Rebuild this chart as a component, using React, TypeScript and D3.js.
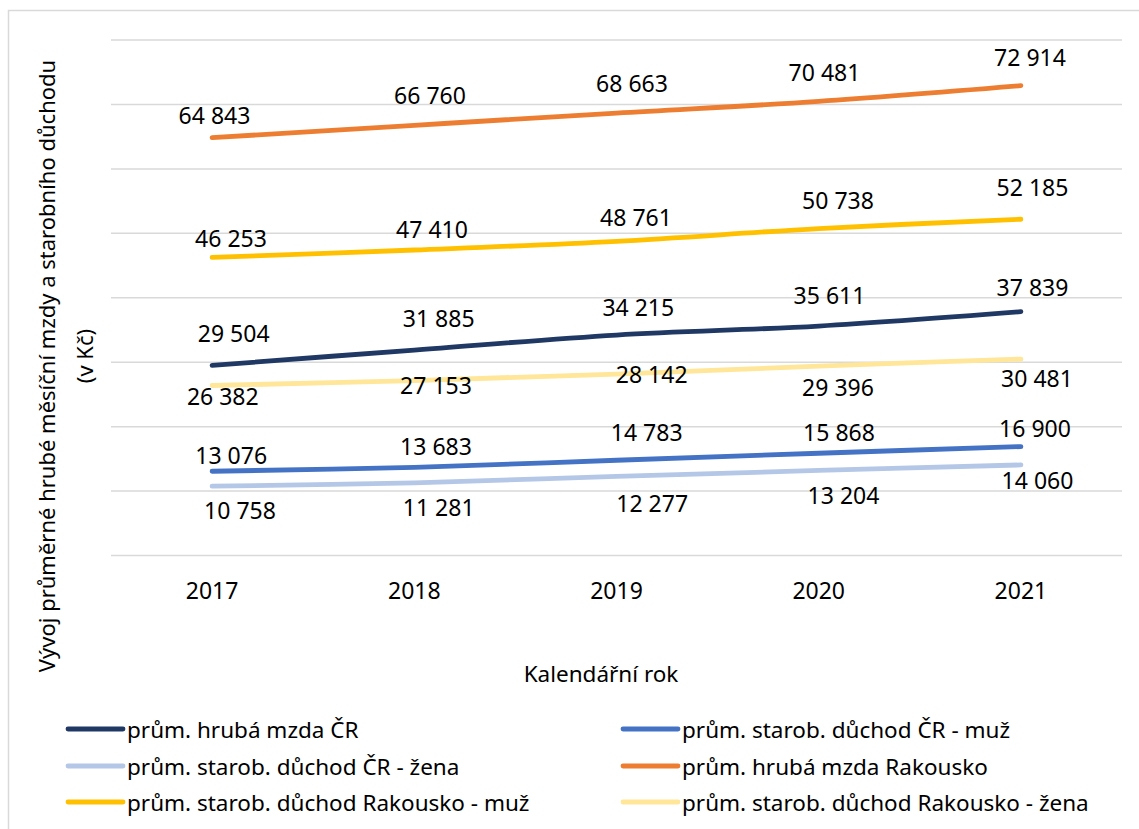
import React from 'react';
import * as d3 from 'd3';

const years = ['2017', '2018', '2019', '2020', '2021'];
const wageCZ = [29504, 31885, 34215, 35611, 37839];
const pensionCZMen = [13076, 13683, 14783, 15868, 16900];
const pensionCZWomen = [10758, 11281, 12277, 13204, 14060];
const wageAT = [64843, 66760, 68663, 70481, 72914];
const pensionATMen = [46253, 47410, 48761, 50738, 52185];
const pensionATWomen = [26382, 27153, 28142, 29396, 30481];
const yTicks = [0, 10000, 20000, 30000, 40000, 50000, 60000, 70000, 80000];

const seriesNames = [
  'prům. hrubá mzda ČR',
  'prům. starob. důchod ČR - muž',
  'prům. starob. důchod ČR - žena',
  'prům. hrubá mzda Rakousko',
  'prům. starob. důchod Rakousko - muž',
  'prům. starob. důchod Rakousko - žena',
];
const seriesValues = [wageCZ, pensionCZMen, pensionCZWomen, wageAT, pensionATMen, pensionATWomen];
const seriesColors = ['#203864', '#4472C4', '#B4C7E7', '#ED7D31', '#FFC000', '#FFE699'];

// label placement offsets relative to the data point (layout only)
const labelDx = [
  [21.6, 24.4, 21.8, 10.8, 11.6],
  [19.1, 21.7, 30.2, 20.3, 14.1],
  [27.9, 24.4, 35.7, 24.8, 16.6],
  [2.4, 15.7, 15.5, 5.8, 9.1],
  [18.9, 17.7, 19.5, 19.3, 11.6],
  [10.7, 21.7, 35.2, 19.3, 16.1],
];
const labelDy = [
  [-32.4, -32, -28.3, -31, -25],
  [-15.9, -21.6, -28.5, -21.6, -18.6],
  [24.1, 24.2, 26.9, 24.3, 15.1],
  [-22.4, -30.3, -30, -29.6, -29],
  [-19.2, -21, -24.3, -28.5, -32.5],
  [10.5, 4.5, 0.1, 20.9, 18.9],
];

const W = 1139;
const H = 829;
const FONT = "'Noto Sans', 'Open Sans', sans-serif";

export default function App() {
  const x = d3.scaleBand<string>().domain(years).range([111, 1122]);
  const y = d3.scaleLinear().domain([0, 80000]).range([555.5, 40]);
  const cx = (yr: string) => (x(yr) as number) + x.bandwidth() / 2;
  const fmt = (v: number) => d3.format(',')(v).replace(/,/g, ' ');

  const line = d3
    .line<number>()
    .x((_, i) => cx(years[i]))
    .y((d) => y(d))
    .curve(d3.curveCatmullRom.alpha(0.5));

  const legendCols = [68, 623];
  const legendRows = [729, 766, 802];

  return (
    <svg width={W} height={H} style={{ position: 'absolute', left: 0, top: 0, background: '#fff' }}>
      <rect x={0} y={0} width={W} height={H} fill="#fff" />
      <rect x={8.5} y={10.5} width={W + 20} height={H + 20} fill="none" stroke="#d9d9d9" strokeWidth={1.5} />
      {yTicks.map((t) => (
        <line key={t} x1={111} x2={1122} y1={y(t)} y2={y(t)} stroke="#d9d9d9" strokeWidth={1.5} />
      ))}
      {years.map((yr) => (
        <text key={yr} x={cx(yr)} y={590} textAnchor="middle" dominantBaseline="central" fontFamily={FONT} fontSize={23} fill="#000">
          {yr}
        </text>
      ))}
      <text x={601} y={673} textAnchor="middle" dominantBaseline="central" fontFamily={FONT} fontSize={22.5} fill="#000">
        Kalendářní rok
      </text>
      <g transform="translate(46,366) rotate(-90)">
        <text x={0} y={0} textAnchor="middle" dominantBaseline="central" fontFamily={FONT} fontSize={22} fill="#000">
          Vývoj průměrné hrubé měsíční mzdy a starobního důchodu
        </text>
      </g>
      <g transform="translate(84,356) rotate(-90)">
        <text x={0} y={0} textAnchor="middle" dominantBaseline="central" fontFamily={FONT} fontSize={22} fill="#000">
          (v Kč)
        </text>
      </g>
      {seriesValues.map((vals, s) => (
        <path key={s} d={line(vals) || ''} fill="none" stroke={seriesColors[s]} strokeWidth={4.8} strokeLinecap="round" strokeLinejoin="round" />
      ))}
      {seriesValues.map((vals, s) =>
        vals.map((v, i) => (
          <text
            key={`${s}-${i}`}
            x={cx(years[i]) + labelDx[s][i]}
            y={y(v) + labelDy[s][i]}
            textAnchor="middle"
            dominantBaseline="central"
            fontFamily={FONT}
            fontSize={23}
            fill="#000"
          >
            {fmt(v)}
          </text>
        ))
      )}
      {seriesNames.map((name, s) => {
        const lx = legendCols[s % 2];
        const ly = legendRows[Math.floor(s / 2)];
        return (
          <g key={name}>
            <line x1={lx} x2={lx + 55} y1={ly} y2={ly} stroke={seriesColors[s]} strokeWidth={4.8} strokeLinecap="round" />
            <text x={lx + 59} y={ly} dominantBaseline="central" fontFamily={FONT} fontSize={22.5} fill="#000">
              {name}
            </text>
          </g>
        );
      })}
    </svg>
  );
}
